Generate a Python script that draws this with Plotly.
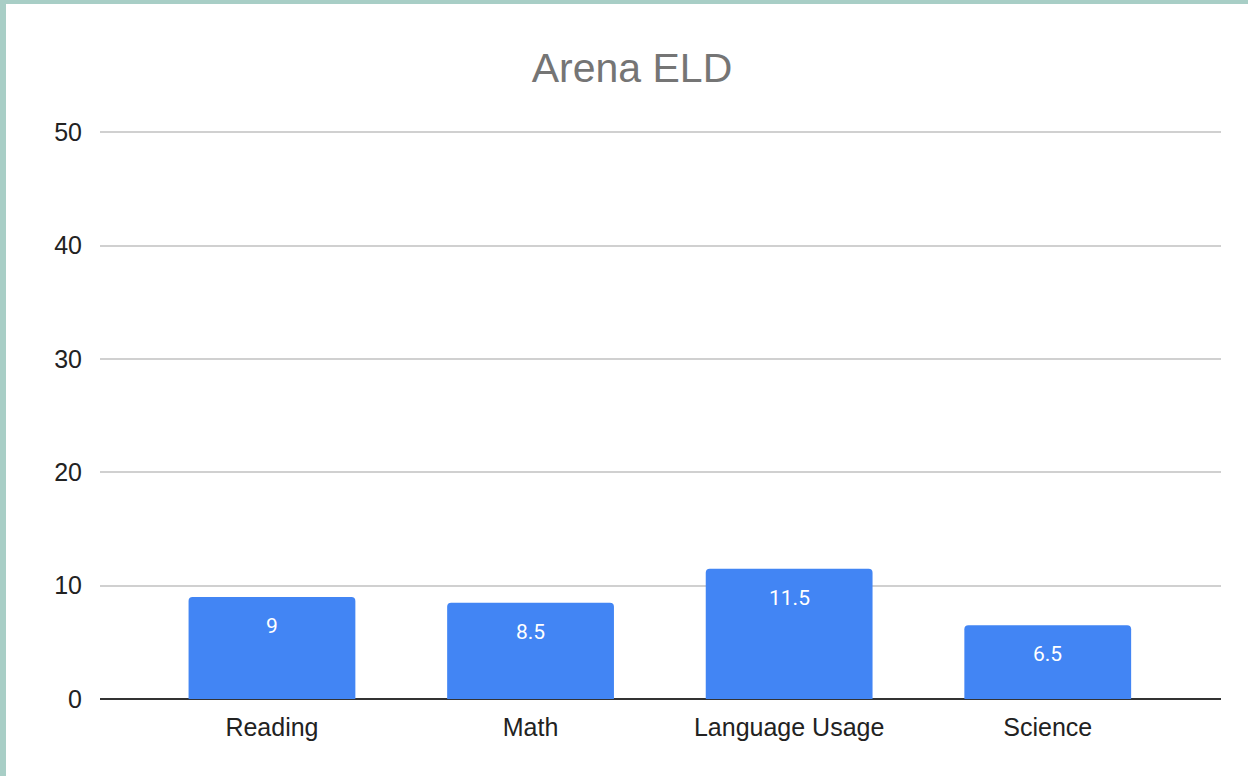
import plotly.graph_objects as go

categories = ["Reading", "Math", "Language Usage", "Science"]
values = [9, 8.5, 11.5, 6.5]
labels = ["9", "8.5", "11.5", "6.5"]
y_ticks = [0, 10, 20, 30, 40, 50]

W, H = 1248, 776
ml, mr, mt, mb = 100, 27, 130, 77
pw, ph = W - ml - mr, H - mt - mb

fig = go.Figure()
fig.add_trace(go.Bar(
    x=categories, y=values,
    marker=dict(color="#4285f4", cornerradius=4, line=dict(width=0)),
    width=0.645,
    hoverinfo="x+y",
))

for c, v, t in zip(categories, values, labels):
    fig.add_annotation(x=c, y=v, text=t, showarrow=False, yanchor="top", yshift=-15,
                       font=dict(family="Roboto, Arial", size=21, color="#ffffff"))

# teal border on left and top
def px_x(px):
    return (px - ml) / pw

def px_y(py):
    return (H - mb - py) / ph

fig.add_shape(type="rect", xref="paper", yref="paper", x0=px_x(0), x1=px_x(6), y0=px_y(H), y1=px_y(0),
              fillcolor="#a8cec6", line=dict(width=0), layer="below")
fig.add_shape(type="rect", xref="paper", yref="paper", x0=px_x(0), x1=px_x(W), y0=px_y(4), y1=px_y(0),
              fillcolor="#a8cec6", line=dict(width=0), layer="below")

fig.update_layout(
    width=W, height=H,
    margin=dict(l=ml, r=mr, t=mt, b=mb),
    paper_bgcolor="#ffffff", plot_bgcolor="#ffffff",
    title=dict(text="Arena ELD", x=632 / W, xref="container", xanchor="center", y=1 - 68 / H, yanchor="middle",
               font=dict(family="Liberation Sans, Arial", size=41, color="#757575")),
    showlegend=False,
    font=dict(family="Liberation Sans, Arial", color="#222222"),
)
fig.update_xaxes(range=[-0.665, 3.67], showgrid=False, showline=False, zeroline=False,
                 tickfont=dict(size=25, color="#222222"), ticks="outside", ticklen=6, tickcolor="rgba(0,0,0,0)")
fig.update_yaxes(range=[0, 50.2], tickvals=y_ticks, showgrid=True, gridcolor="#d0d0d0", gridwidth=1.5,
                 zeroline=True, zerolinecolor="#333333", zerolinewidth=1.5, showline=False,
                 tickfont=dict(size=25, color="#222222"), ticks="outside", ticklen=12, tickcolor="rgba(0,0,0,0)")

fig.write_html("out.html", config={"displayModeBar": False},
               post_script="document.body.style.margin='0';")
